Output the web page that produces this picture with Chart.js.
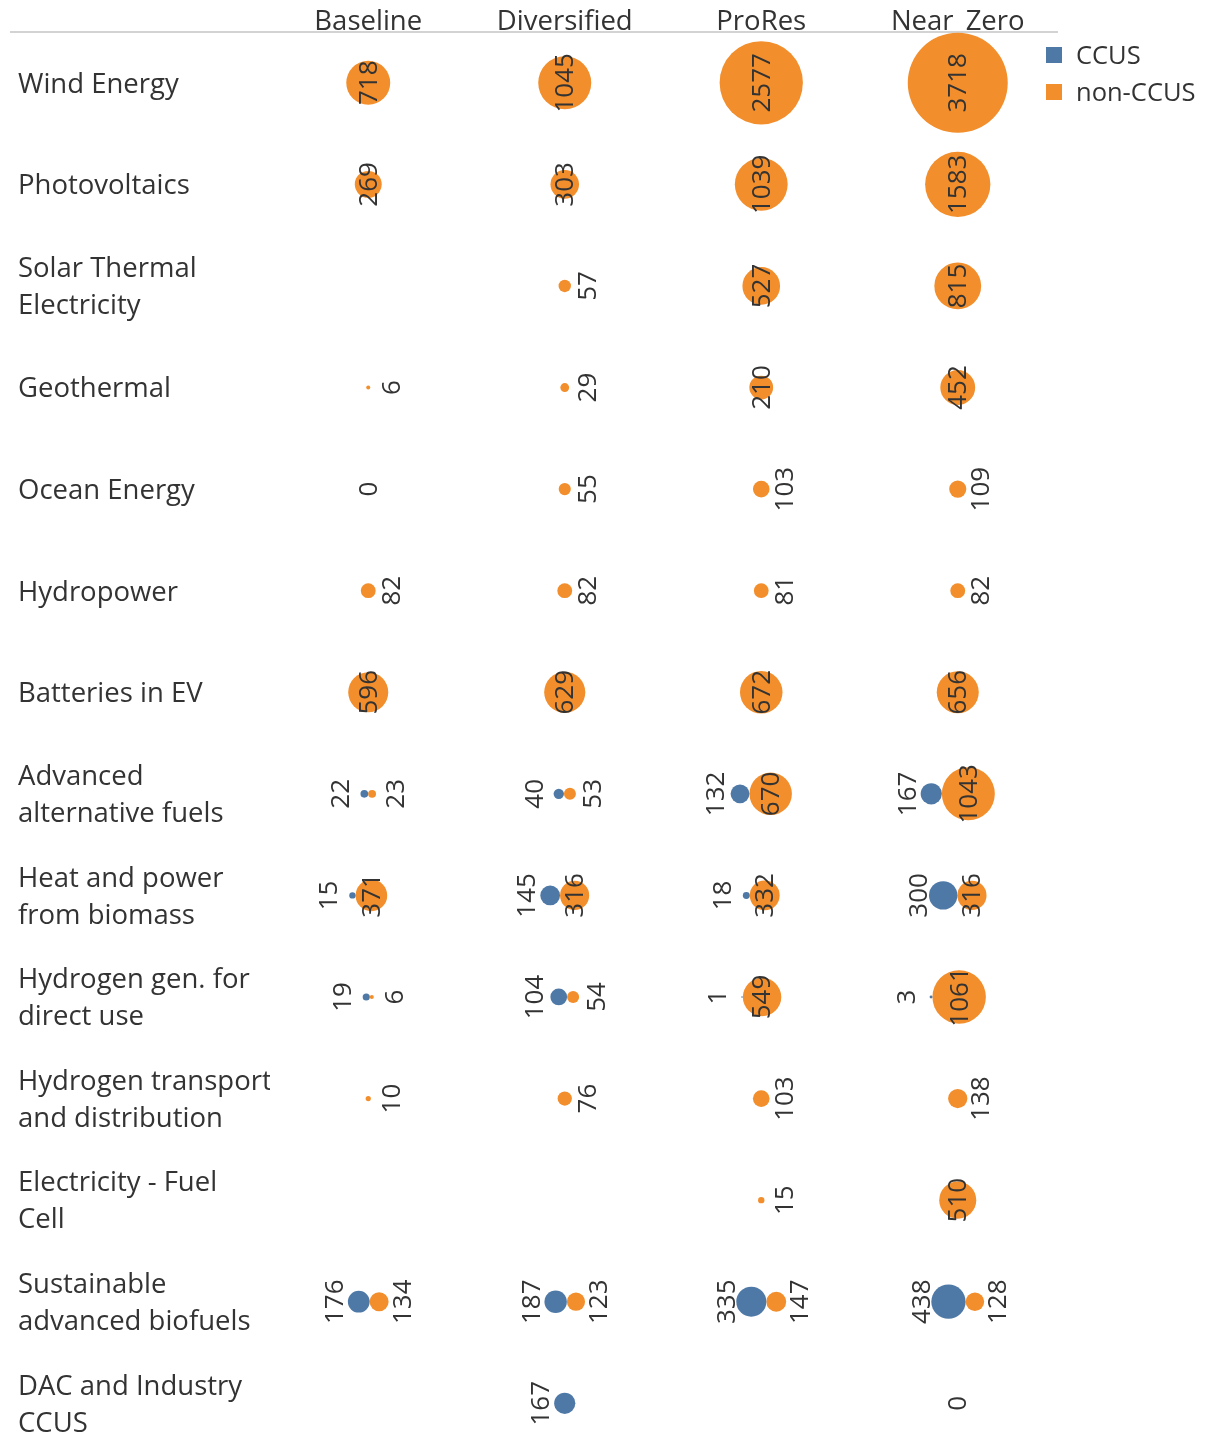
<!DOCTYPE html>
<html>
<head>
<meta charset="utf-8">
<script src="https://cdn.jsdelivr.net/npm/chart.js@4.4.1/dist/chart.umd.min.js"></script>
<style>
  html, body { margin: 0; padding: 0; background: #fff; overflow: hidden; }
  canvas { display: block; }
</style>
</head>
<body>
<canvas id="bubbleChart" width="1208" height="1449"></canvas>
<script>
// columns
const scenarios = ['Baseline', 'Diversified', 'ProRes', 'Near_Zero'];
// rows
const technologies = [
  'Wind Energy',
  'Photovoltaics',
  ['Solar Thermal', 'Electricity'],
  'Geothermal',
  'Ocean Energy',
  'Hydropower',
  'Batteries in EV',
  ['Advanced', 'alternative fuels'],
  ['Heat and power', 'from biomass'],
  ['Hydrogen gen. for', 'direct use'],
  ['Hydrogen transport', 'and distribution'],
  ['Electricity - Fuel', 'Cell'],
  ['Sustainable', 'advanced biofuels'],
  ['DAC and Industry', 'CCUS']
];
const seriesNames = ['CCUS', 'non-CCUS'];

// one row per technology, one value per scenario (null = no bubble)
const ccusValues = [
  [null, null, null, null],
  [null, null, null, null],
  [null, null, null, null],
  [null, null, null, null],
  [null, null, null, null],
  [null, null, null, null],
  [null, null, null, null],
  [22, 40, 132, 167],
  [15, 145, 18, 300],
  [19, 104, 1, 3],
  [null, null, null, null],
  [null, null, null, null],
  [176, 187, 335, 438],
  [null, 167, null, 0]
];
const nonCcusValues = [
  [718, 1045, 2577, 3718],
  [269, 303, 1039, 1583],
  [null, 57, 527, 815],
  [6, 29, 210, 452],
  [0, 55, 103, 109],
  [82, 82, 81, 82],
  [596, 629, 672, 656],
  [23, 53, 670, 1043],
  [371, 316, 332, 316],
  [6, 54, 549, 1061],
  [10, 76, 103, 138],
  [null, null, 15, 510],
  [134, 123, 147, 128],
  [null, null, null, null]
];

const BLUE = '#4e79a7';
const ORANGE = '#f28e2b';
const TEXT = '#333333';
const FONT = "'Open Sans', 'Noto Sans', sans-serif";

// bubble area follows the value
function radius(v) {
  return v == null ? 0 : 0.82 * Math.sqrt(v);
}

// the two bubbles of a cell sit side by side, centred on the column
function buildPoints(values, other, side, pxPerUnit) {
  const pts = [];
  values.forEach((row, i) => {
    row.forEach((v, j) => {
      if (v == null) return;
      const shift = side * radius(other[i][j]);
      pts.push({ x: j + shift / pxPerUnit, y: i, r: radius(v), v: v });
    });
  });
  return pts;
}

const headerLine = {
  id: 'headerLine',
  beforeDatasetsDraw(chart) {
    const ctx = chart.ctx;
    const a = chart.chartArea;
    ctx.save();
    ctx.strokeStyle = '#c4c4c4';
    ctx.lineWidth = 1.5;
    ctx.beginPath();
    ctx.moveTo(10, a.top);
    ctx.lineTo(a.right + 2, a.top);
    ctx.stroke();
    ctx.restore();
  }
};

const bubbleLabels = {
  id: 'bubbleLabels',
  afterDatasetsDraw(chart) {
    const ctx = chart.ctx;
    ctx.save();
    ctx.font = '26px ' + FONT;
    ctx.fillStyle = TEXT;
    ctx.textAlign = 'center';
    ctx.textBaseline = 'middle';
    chart.data.datasets.forEach((ds, di) => {
      const meta = chart.getDatasetMeta(di);
      meta.data.forEach((el, k) => {
        const v = ds.data[k].v;
        const r = ds.data[k].r;
        let x = el.x;
        if (v !== 0) {
          if (ds.labelSide < 0) x -= Math.max(24, r + 10);
          else if (v < 180) x += 23;
        }
        ctx.save();
        ctx.translate(x, el.y);
        ctx.rotate(-Math.PI / 2);
        ctx.fillText(String(v), 0, 1);
        ctx.restore();
      });
    });
    ctx.restore();
  }
};

const sideLegend = {
  id: 'sideLegend',
  afterDraw(chart) {
    const ctx = chart.ctx;
    const a = chart.chartArea;
    ctx.save();
    ctx.font = '25.5px ' + FONT;
    ctx.textBaseline = 'middle';
    ctx.textAlign = 'left';
    chart.data.datasets.forEach((ds, i) => {
      const cy = a.top + 23 + i * 37;
      ctx.fillStyle = ds.backgroundColor;
      ctx.fillRect(a.right - 10, cy - 8, 16, 16);
      ctx.fillStyle = TEXT;
      ctx.fillText(ds.label, a.right + 20, cy + 2);
    });
    ctx.restore();
  }
};

const ctx = document.getElementById('bubbleChart').getContext('2d');
const chart = new Chart(ctx, {
  type: 'bubble',
  data: {
    datasets: [
      {
        label: seriesNames[0],
        data: buildPoints(ccusValues, nonCcusValues, -1, Infinity),
        backgroundColor: BLUE,
        borderWidth: 0,
        labelSide: -1
      },
      {
        label: seriesNames[1],
        data: buildPoints(nonCcusValues, ccusValues, 1, Infinity),
        backgroundColor: ORANGE,
        borderWidth: 0,
        labelSide: 1
      }
    ]
  },
  options: {
    responsive: false,
    animation: false,
    events: [],
    layout: { autoPadding: false, padding: { left: 18, right: 152, top: 0, bottom: 0 } },
    plugins: {
      legend: { display: false },
      tooltip: { enabled: false }
    },
    scales: {
      x: {
        type: 'linear',
        position: 'top',
        min: -0.5,
        max: 3.5,
        afterBuildTicks: s => { s.ticks = scenarios.map((_, i) => ({ value: i })); },
        afterFit: s => { s.height = 32; s.paddingLeft = 0; s.paddingRight = 0; },
        grid: { display: false, drawTicks: false },
        border: { display: false },
        ticks: {
          callback: v => scenarios[v],
          color: TEXT,
          padding: 0,
          maxRotation: 0,
          autoSkip: false,
          font: { family: FONT, size: 27.5, lineHeight: 0.7 }
        }
      },
      y: {
        type: 'linear',
        reverse: true,
        min: -0.5,
        max: 13.45,
        afterBuildTicks: s => { s.ticks = technologies.map((_, i) => ({ value: i })); },
        afterFit: s => { s.width = 252; s.paddingTop = 0; s.paddingBottom = 0; },
        grid: { display: false, drawTicks: false },
        border: { display: false },
        ticks: {
          callback: v => technologies[v],
          color: TEXT,
          crossAlign: 'far',
          autoSkip: false,
          labelOffset: 2,
          font: { family: FONT, size: 27.5, lineHeight: 1.345 }
        }
      }
    }
  },
  plugins: [headerLine, bubbleLabels, sideLegend]
});

// second pass: turn the pixel gap between paired bubbles into x units
const xScale = chart.scales.x;
const pxPerUnit = xScale.getPixelForValue(1) - xScale.getPixelForValue(0);
chart.data.datasets[0].data = buildPoints(ccusValues, nonCcusValues, -1, pxPerUnit);
chart.data.datasets[1].data = buildPoints(nonCcusValues, ccusValues, 1, pxPerUnit);
chart.update('none');
</script>
</body>
</html>
